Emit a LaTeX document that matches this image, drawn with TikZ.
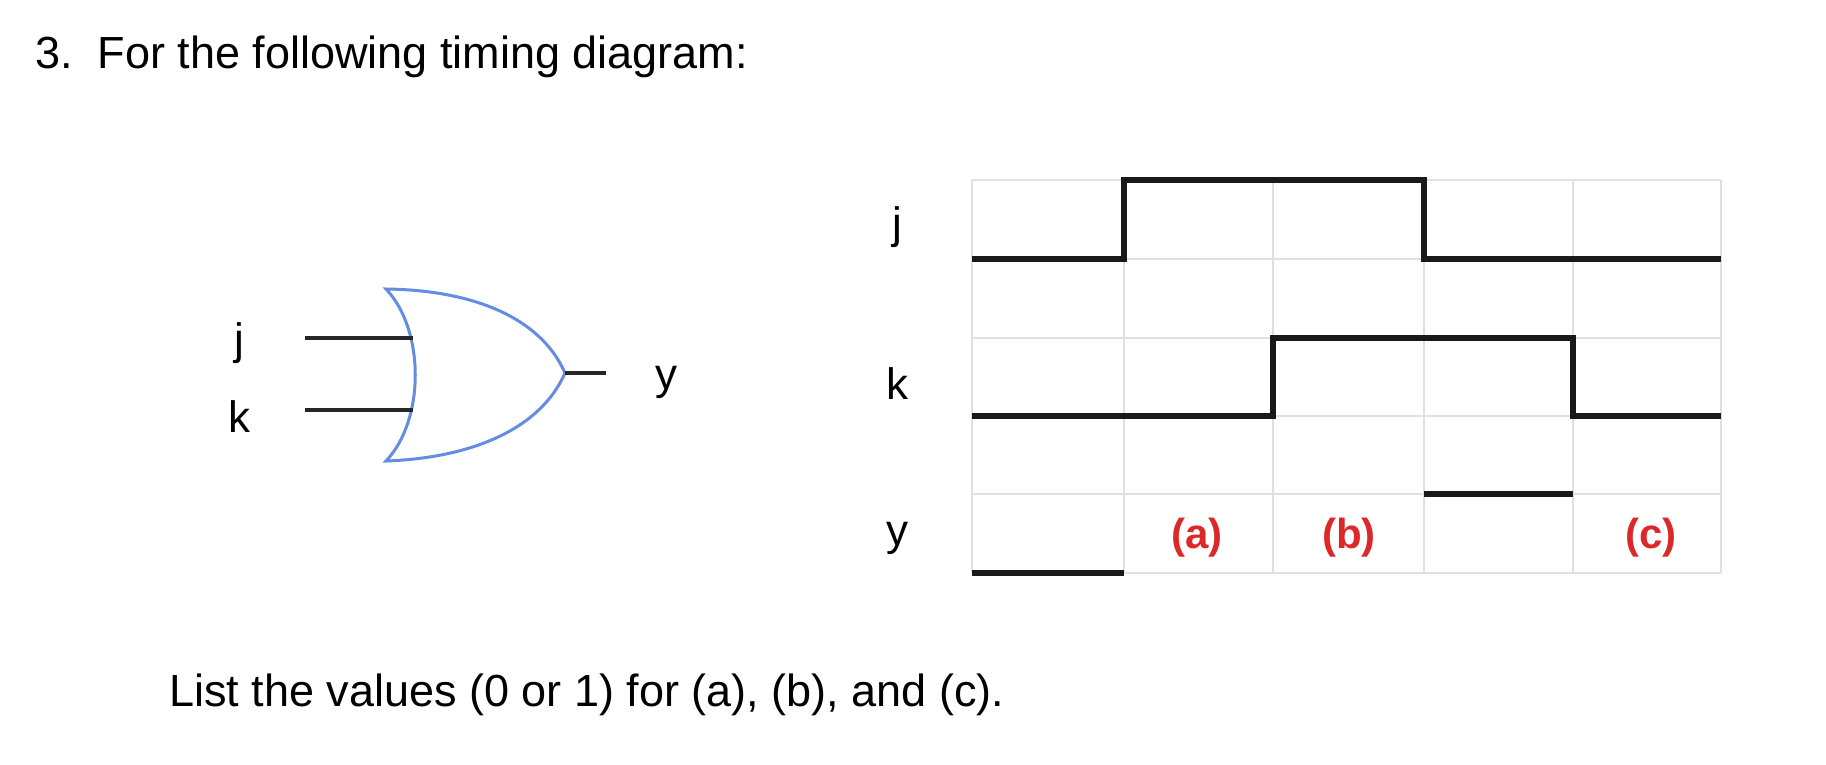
\documentclass[tikz,border=0pt]{standalone}
\usepackage{fontspec}
\setmainfont{Liberation Sans}
\begin{document}
\begin{tikzpicture}[x=1pt,y=-1pt,
  sig/.style={line width=5.5pt,black!90},
  gridl/.style={line width=1.5pt,black!12},
  lbl/.style={font=\fontsize{44}{48}\selectfont,inner sep=0pt},
  ans/.style={font=\fontsize{42}{46}\selectfont\bfseries,text={rgb,255:red,220;green,40;blue,40},inner sep=0pt}]
\useasboundingbox (0,0) rectangle (1826,764);
\node[lbl,font=\fontsize{45}{50}\selectfont,anchor=base west] (title) at (35,68) {3.\ \ For the following timing diagram:};
\node[lbl,font=\fontsize{45}{50}\selectfont,anchor=west] (bottom) at (169,695) {List the values (0 or 1) for (a), (b), and (c).};
% grid
\foreach \x in {972,1124,1273,1424,1573,1721} \draw[gridl] (\x,180) -- (\x,573);
\foreach \y in {180,259,338,416,494,573} \draw[gridl] (972,\y) -- (1721,\y);
% signals
\draw[sig] (972,259) -- (1124,259) -- (1124,180) -- (1424,180) -- (1424,259) -- (1721,259);
\draw[sig] (972,416) -- (1273,416) -- (1273,338) -- (1573,338) -- (1573,416) -- (1721,416);
\draw[sig] (972,573) -- (1124,573);
\draw[sig] (1424,494) -- (1573,494);
\node[lbl] (lj) at (897,227) {j};
\node[lbl] (lk) at (897,384) {k};
\node[lbl] (ly) at (897,538) {y};
\node[ans] (a) at (1197,538) {(a)};
\node[ans] (b) at (1349,538) {(b)};
\node[ans] (c) at (1651,538) {(c)};
% gate
\coordinate (tl) at (386,289);
\coordinate (bl) at (386,461);
\coordinate (tip) at (565,373);
\draw[line width=3pt,color={rgb,255:red,100;green,140;blue,225}]
  (tl) .. controls (425,330) and (425,420) .. (bl)
  .. controls (470,458) and (540,430) .. (tip)
  .. controls (540,316) and (470,290) .. (tl) -- cycle;
\coordinate (ij) at (413,338);
\coordinate (ik) at (413,410);
\coordinate (oj) at (305,338);
\coordinate (ok) at (305,410);
\coordinate (oy) at (606,373);
\draw[line width=4.5pt,black!85] (oj) -- (ij);
\draw[line width=4.5pt,black!85] (ok) -- (ik);
\draw[line width=4.5pt,black!85] (tip) -- (oy);
\node[lbl] (gj) at (239,343) {j};
\node[lbl] (gk) at (239,417) {k};
\node[lbl] (gy) at (666,382) {y};
\end{tikzpicture}
\end{document}
